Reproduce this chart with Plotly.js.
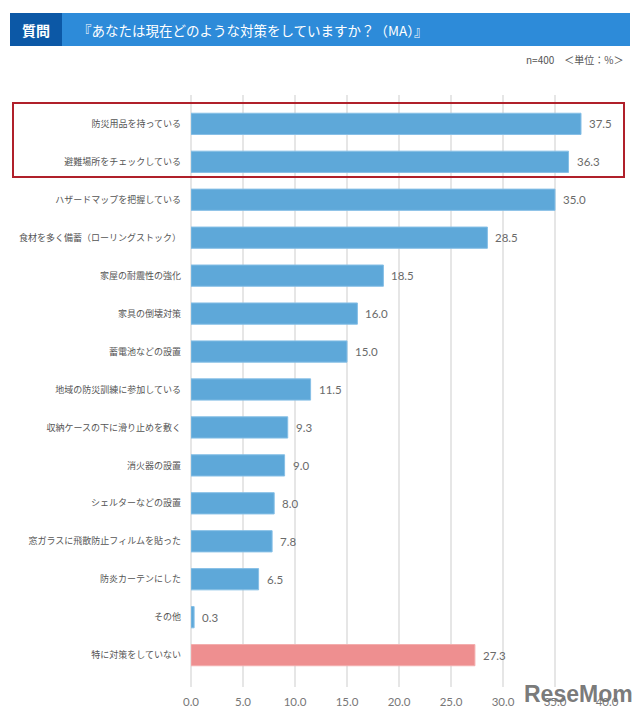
<!DOCTYPE html>
<html>
<head>
<meta charset="utf-8">
<script src="https://cdn.plot.ly/plotly-3.0.1.min.js"></script>
<style>html,body{margin:0;padding:0;background:#fff;}#chart{width:640px;height:717px;}</style>
</head>
<body>
<div id="chart"></div>
<script>
const categories = [
  "防災用品を持っている",
  "避難場所をチェックしている",
  "ハザードマップを把握している",
  "食材を多く備蓄（ローリングストック）",
  "家屋の耐震性の強化",
  "家具の倒壊対策",
  "蓄電池などの設置",
  "地域の防災訓練に参加している",
  "収納ケースの下に滑り止めを敷く",
  "消火器の設置",
  "シェルターなどの設置",
  "窓ガラスに飛散防止フィルムを貼った",
  "防炎カーテンにした",
  "その他",
  "特に対策をしていない"
];
const values = [37.5, 36.3, 35.0, 28.5, 18.5, 16.0, 15.0, 11.5, 9.3, 9.0, 8.0, 7.8, 6.5, 0.3, 27.3];
const valueLabels = ["37.5","36.3","35.0","28.5","18.5","16.0","15.0","11.5","9.3","9.0","8.0","7.8","6.5","0.3","27.3"];
const tickValues = [0, 5, 10, 15, 20, 25, 30, 35, 40];
const tickLabels = ["0.0","5.0","10.0","15.0","20.0","25.0","30.0","35.0","40.0"];
const titleText = "『あなたは現在どのような対策をしていますか？（MA）』";
const noteText = "n=400　＜単位：%＞";

const W = 640, H = 717;
const M = {l: 191, r: 33, t: 95, b: 30};
const PW = W - M.l - M.r, PH = H - M.t - M.b;
const px = x => (x - M.l) / PW;
const py = y => (H - M.b - y) / PH;

const blue = "#5ea8d9", pink = "#ee8f90";
const colors = categories.map((c, i) => i === categories.length - 1 ? pink : blue);
const lineColors = categories.map((c, i) => i === categories.length - 1 ? "#f3aeae" : "#86bfe6");

const font = "'Noto Sans CJK JP', 'Noto Sans', sans-serif";
const numFont = "Lato, 'DejaVu Sans', sans-serif";

const trace = {
  type: "bar",
  orientation: "h",
  y: categories,
  x: values,
  marker: {color: colors, line: {color: lineColors, width: 1}},
  width: 0.56,
  hoverinfo: "none"
};

const annotations = values.map((v, i) => ({
  x: v, y: categories[i], xref: "x", yref: "y",
  text: valueLabels[i], showarrow: false, xanchor: "left", yanchor: "middle", xshift: 6,
  font: {family: numFont, size: 11.5, color: "#6a6a6a"}
}));

annotations.push(
  {xref: "paper", yref: "paper", x: px(36), y: py(30), xanchor: "center", yanchor: "middle",
   text: "<b>質問</b>", showarrow: false,
   font: {family: font, size: 14, color: "#fff"}},
  {xref: "paper", yref: "paper", x: px(76), y: py(30), xanchor: "left", yanchor: "middle",
   text: titleText, showarrow: false,
   font: {family: font, size: 13.5, color: "#fff"}},
  {xref: "paper", yref: "paper", x: px(626), y: py(60), xanchor: "right", yanchor: "middle",
   text: noteText, showarrow: false,
   font: {family: font, size: 10, color: "#555"}},
  {xref: "paper", yref: "paper", x: px(578), y: py(694), xanchor: "center", yanchor: "middle",
   text: "<b>ReseMom</b>", showarrow: false,
   font: {family: "'Liberation Sans', Arial, sans-serif", size: 23, color: "rgba(110,110,110,0.92)"}}
);

const shapes = [
  {type: "rect", xref: "paper", yref: "paper", x0: px(10), x1: px(630), y0: py(13), y1: py(46),
   fillcolor: "#2d8bd9", line: {width: 0}, layer: "above"},
  {type: "rect", xref: "paper", yref: "paper", x0: px(10), x1: px(62), y0: py(13), y1: py(46),
   fillcolor: "#0c58a6", line: {width: 0}, layer: "above"},
  {type: "rect", xref: "paper", yref: "paper", x0: px(13), x1: px(624), y0: py(103), y1: py(177),
   fillcolor: "rgba(0,0,0,0)", line: {color: "#b0202a", width: 2}, layer: "above"}
];

const layout = {
  width: W, height: H,
  margin: M,
  paper_bgcolor: "#fff", plot_bgcolor: "#fff",
  showlegend: false,
  xaxis: {
    range: [0, 40], tickvals: tickValues, ticktext: tickLabels,
    showgrid: true, gridcolor: "#e6e6e6", gridwidth: 1.5,
    zeroline: true, zerolinecolor: "#e6e6e6", zerolinewidth: 1.5,
    showline: false, ticks: "",
    ticklabelstandoff: 6,
    tickfont: {family: numFont, size: 11.5, color: "#777"},
    fixedrange: true
  },
  yaxis: {
    type: "category",
    range: [14.84, -0.76],
    showgrid: false, zeroline: false, showline: false, ticks: "",
    ticklabelstandoff: 9,
    tickfont: {family: font, size: 9, color: "#555"},
    fixedrange: true
  },
  annotations: annotations,
  shapes: shapes
};

Plotly.newPlot("chart", [trace], layout, {displayModeBar: false, staticPlot: true});
</script>
</body>
</html>
